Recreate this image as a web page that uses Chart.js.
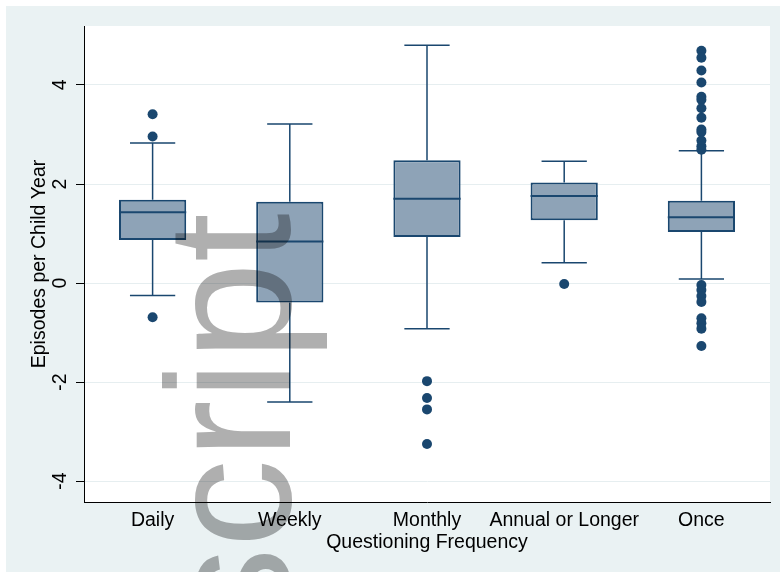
<!DOCTYPE html>
<html>
<head>
<meta charset="utf-8">
<script src="https://cdn.jsdelivr.net/npm/chart.js@4.4.0/dist/chart.umd.min.js"></script>
<style>
  html, body { margin: 0; padding: 0; background: #EAF2F3; overflow: hidden; }
  canvas { display: block; }
</style>
</head>
<body>
<canvas id="myChart" width="780" height="572"></canvas>
<script>
let categories = ["Daily", "Weekly", "Monthly", "Annual or Longer", "Once"];
let q1 = [0.87, -0.39, 0.93, 1.27, 1.03];
let medians = [1.43, 0.84, 1.7, 1.76, 1.33];
let q3 = [1.68, 1.64, 2.48, 2.03, 1.66];
let whiskerLow = [-0.25, -2.4, -0.92, 0.41, 0.08];
let whiskerHigh = [2.83, 3.21, 4.8, 2.46, 2.67];

let outliersDaily = [3.41, 2.96, -0.69];
let outliersWeekly = [];
let outliersMonthly = [-1.98, -2.32, -2.55, -3.25];
let outliersAnnual = [-0.02];
let outliersOnce = [4.69, 4.55, 4.29, 4.05, 3.76, 3.7, 3.53, 3.34, 3.1, 3.05, 2.88, 2.76, 2.69,
  -0.04, -0.14, -0.26, -0.38, -0.71, -0.81, -0.92, -1.27];

let yTicks = [-4, -2, 0, 2, 4];
let watermarkText = "script";

let navy = "#1A476F";
let boxFill = "#8EA3B7";
let fontFamily = '"Liberation Sans", Arial, Helvetica, sans-serif';

let outlierGroups = [outliersDaily, outliersWeekly, outliersMonthly, outliersAnnual, outliersOnce];
let outlierPoints = [];
for (let i = 0; i < categories.length; i++) {
  for (let j = 0; j < outlierGroups[i].length; j++) {
    outlierPoints.push({ x: categories[i], y: outlierGroups[i][j] });
  }
}
let boxes = categories.map((c, i) => [q1[i], q3[i]]);

// background: white edge top/left, stata blue-grey frame, white plot region
let backgroundPlugin = {
  id: "background",
  beforeDraw(chart) {
    let ctx = chart.ctx;
    let a = chart.chartArea;
    ctx.save();
    ctx.fillStyle = "#ffffff";
    ctx.fillRect(0, 0, chart.width, chart.height);
    ctx.fillStyle = "#EAF2F3";
    ctx.fillRect(6, 6, chart.width, chart.height);
    ctx.fillStyle = "#ffffff";
    ctx.fillRect(a.left, a.top, a.right - a.left, a.bottom - a.top);
    ctx.restore();
  },
};

// whiskers and medians, drawn right after the boxes
let boxPlotPlugin = {
  id: "boxplot",
  afterDatasetDraw(chart, args) {
    if (args.index !== 1) return;
    let ctx = chart.ctx;
    let x = chart.scales.x;
    let y = chart.scales.y;
    let step = x.getPixelForValue(1) - x.getPixelForValue(0);
    let capHalf = step * 0.165;
    let boxHalf = step * 0.245;
    ctx.save();
    ctx.strokeStyle = navy;
    for (let i = 0; i < categories.length; i++) {
      let cx = x.getPixelForValue(i);
      ctx.lineWidth = 1.5;
      ctx.beginPath();
      ctx.moveTo(cx, y.getPixelForValue(q3[i]));
      ctx.lineTo(cx, y.getPixelForValue(whiskerHigh[i]));
      ctx.moveTo(cx - capHalf, y.getPixelForValue(whiskerHigh[i]));
      ctx.lineTo(cx + capHalf, y.getPixelForValue(whiskerHigh[i]));
      ctx.moveTo(cx, y.getPixelForValue(q1[i]));
      ctx.lineTo(cx, y.getPixelForValue(whiskerLow[i]));
      ctx.moveTo(cx - capHalf, y.getPixelForValue(whiskerLow[i]));
      ctx.lineTo(cx + capHalf, y.getPixelForValue(whiskerLow[i]));
      ctx.stroke();
      ctx.lineWidth = 2;
      ctx.beginPath();
      ctx.moveTo(cx - boxHalf, y.getPixelForValue(medians[i]));
      ctx.lineTo(cx + boxHalf, y.getPixelForValue(medians[i]));
      ctx.stroke();
    }
    ctx.restore();
  },
};

// the grey rotated stamp that sits over the figure
let watermarkPlugin = {
  id: "watermark",
  afterDraw(chart) {
    let ctx = chart.ctx;
    ctx.save();
    ctx.globalCompositeOperation = "multiply";
    ctx.fillStyle = "#AFAFAF";
    ctx.font = "177px " + fontFamily;
    ctx.translate(290, 213);
    ctx.rotate(-Math.PI / 2);
    ctx.textAlign = "right";
    ctx.textBaseline = "alphabetic";
    ctx.fillText(watermarkText, 0, 0);
    ctx.restore();
  },
};

let ctx = document.getElementById("myChart").getContext("2d");
let chart = new Chart(ctx, {
  data: {
    labels: categories,
    datasets: [
      {
        type: "line",
        data: outlierPoints,
        showLine: false,
        pointRadius: 5,
        pointBorderWidth: 0,
        pointBackgroundColor: navy,
        order: 0,
      },
      {
        type: "bar",
        data: boxes,
        backgroundColor: boxFill,
        borderColor: navy,
        borderWidth: 2,
        borderSkipped: false,
        barPercentage: 0.49,
        categoryPercentage: 1,
        order: 1,
      },
    ],
  },
  options: {
    responsive: false,
    animation: false,
    devicePixelRatio: 1,
    layout: { padding: { left: 0, top: 26, right: 10, bottom: 0 } },
    plugins: {
      legend: { display: false },
      tooltip: { enabled: false },
    },
    scales: {
      x: {
        type: "category",
        offset: true,
        grid: { display: false, drawTicks: false },
        border: { display: true, color: "#000", width: 1 },
        ticks: {
          color: "#000",
          font: { family: fontFamily, size: 19.5 },
          padding: 7,
          maxRotation: 0,
          minRotation: 0,
          autoSkip: false,
        },
        title: {
          display: true,
          text: "Questioning Frequency",
          color: "#000",
          font: { family: fontFamily, size: 19.5 },
          padding: { top: 0, bottom: 18 },
        },
        afterFit(scale) {
          scale.height = 70;
        },
      },
      y: {
        min: -4.42,
        max: 5.19,
        afterBuildTicks(scale) {
          scale.ticks = yTicks.map((v) => ({ value: v }));
        },
        grid: { color: "#E6EEF0", lineWidth: 1, tickColor: "#000", tickLength: 8 },
        border: { display: true, color: "#000", width: 1 },
        ticks: {
          color: "#000",
          font: { family: fontFamily, size: 19.5 },
          minRotation: 90,
          maxRotation: 90,
          crossAlign: "center",
          padding: 7,
        },
        title: {
          display: true,
          text: "Episodes per Child Year",
          color: "#000",
          font: { family: fontFamily, size: 19.5 },
          padding: { top: 28, bottom: 0 },
        },
        afterFit(scale) {
          scale.width = 84;
        },
      },
    },
  },
  plugins: [backgroundPlugin, boxPlotPlugin, watermarkPlugin],
});
</script>
</body>
</html>
